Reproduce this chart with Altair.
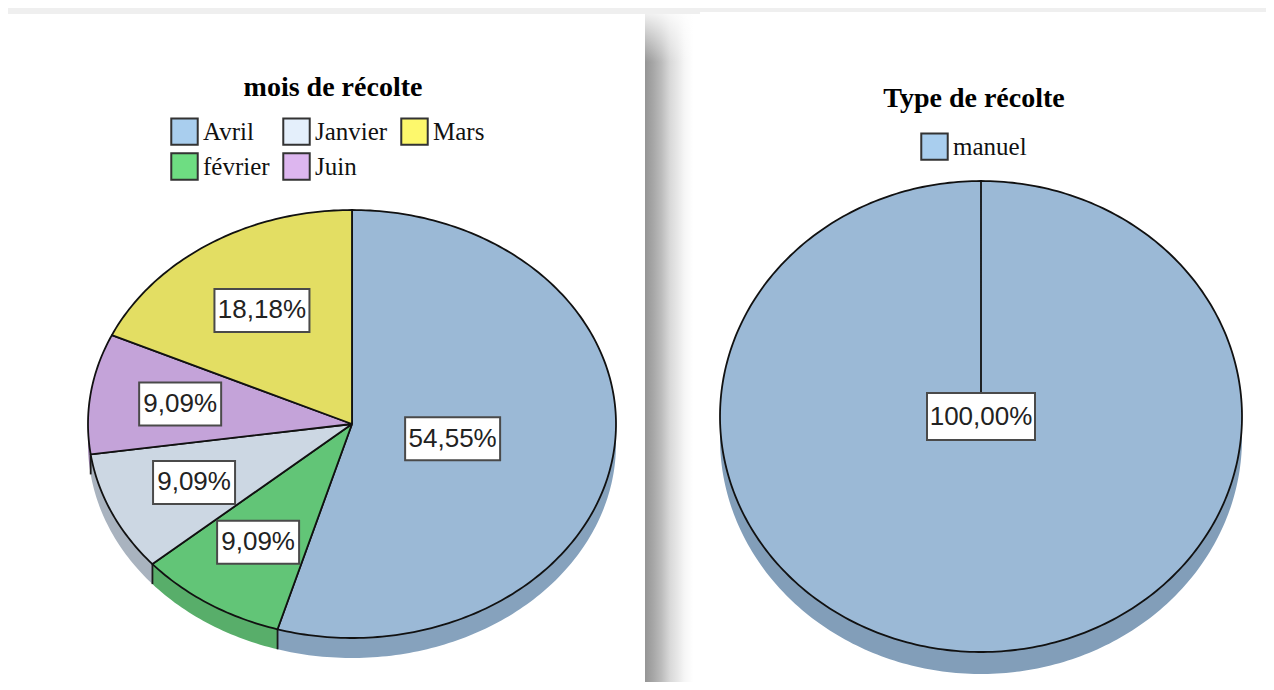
import math
import altair as alt
import pandas as pd

# ---- values ----
months = ["Avril", "février", "Janvier", "Juin", "Mars"]
month_shares = [54.55, 9.09, 9.09, 9.09, 18.18]
month_labels = ["54,55%", "9,09%", "9,09%", "9,09%", "18,18%"]

types = ["manuel"]
type_shares = [100.0]
type_labels = ["100,00%"]

# ---- styles ----
top_months = ["#9BB9D6", "#62C577", "#CCD7E3", "#C4A3D9", "#E3DE63"]
side_months = ["#86A2BD", "#58AE6A", "#A9B3BF", "#A087B2", "#BDB952"]
key_months = ["#A9CEEE", "#6EDD82", "#E4EFFB", "#DDB6EF", "#FDF86C"]
top_types = ["#9BB9D6"]
side_types = ["#829EB9"]
key_types = ["#A9CEEE"]

SERIF = "Liberation Serif"
LABEL_FONT = "Liberation Sans"
H = 674


def arc(cx, cy, rx, ry, a0, a1):
    n = max(2, int(abs(a1 - a0)) + 1)
    out = []
    for k in range(n + 1):
        a = math.radians(a0 + (a1 - a0) * k / n)
        out.append((cx + rx * math.sin(a), cy - ry * math.cos(a)))
    return out


def panel(names, shares, labels, top, side, key_colors, title,
          cx, cy, rx, ry, depth, x0, x1, title_xy, legend_xy, box_h, nudge, background):
    xs = alt.Scale(domain=[x0, x1], nice=False, zero=False)
    ys = alt.Scale(domain=[H + 8, 8], nice=False, zero=False)
    X = lambda f: alt.X(f, type="quantitative", scale=xs, axis=None)
    Y = lambda f: alt.Y(f, type="quantitative", scale=ys, axis=None)

    side_rows, top_rows, label_rows, edge_rows = [], [], [], []
    a = 0.0
    total = sum(shares)
    for i, name in enumerate(names):
        sweep = 360.0 * shares[i] / total
        a1 = a + sweep
        pts = arc(cx, cy, rx, ry, a, a1)
        ring = pts + [(px, py + depth) for px, py in reversed(pts)] + [pts[0]]
        for j, (px, py) in enumerate(ring):
            side_rows.append(dict(px=px, py=py, ord=j, name=name, c=side[i]))
        poly = [(cx, cy)] + pts + [(cx, cy)]
        for j, (px, py) in enumerate(poly):
            top_rows.append(dict(px=px, py=py, ord=j, name=name, c=top[i]))
        half = math.radians(sweep / 2)
        rf = (2 / 3) * math.sin(half) / half
        mid = math.radians(a + sweep / 2)
        lx = cx + rf * rx * math.sin(mid)
        ly = cy - rf * ry * math.cos(mid) + nudge[i]
        bw = 17 + 13 * len(labels[i])
        label_rows.append(dict(name=name, label=labels[i], lx=lx, ly=ly,
                               bx0=lx - bw / 2, bx1=lx + bw / 2,
                               by0=ly - box_h / 2, by1=ly + box_h / 2))
        # a boundary on the front of the pie shows as a vertical edge
        if 90 < a1 < 270:
            ex, ey = arc(cx, cy, rx, ry, a1, a1 + 1)[0]
            edge_rows.append(dict(ex=ex, ey=ey, ey2=ey + depth))
        a = a1

    side_df, top_df = pd.DataFrame(side_rows), pd.DataFrame(top_rows)
    lab_df = pd.DataFrame(label_rows)

    layers = background(X, Y)

    layers.append(alt.Chart(side_df).mark_line(strokeWidth=0).encode(
        x=X("px"), y=Y("py"), order=alt.Order("ord:Q"),
        detail="name:N", fill=alt.Fill("c:N", scale=None)))
    if edge_rows:
        layers.append(alt.Chart(pd.DataFrame(edge_rows)).mark_rule(
            color="#1a1a1a", strokeWidth=1.8).encode(
            x=X("ex"), y=Y("ey"), y2="ey2:Q"))
    layers.append(alt.Chart(top_df).mark_line(
        stroke="#111111", strokeWidth=1.8, strokeJoin="round").encode(
        x=X("px"), y=Y("py"), order=alt.Order("ord:Q"),
        detail="name:N", fill=alt.Fill("c:N", scale=None)))
    layers.append(alt.Chart(lab_df).mark_rect(
        fill="white", stroke="#4a4a4a", strokeWidth=2).encode(
        x=X("bx0"), x2="bx1:Q", y=Y("by0"), y2="by1:Q"))
    layers.append(alt.Chart(lab_df).mark_text(
        font=LABEL_FONT, fontSize=26, color="#222222",
        align="center", baseline="middle").encode(
        x=X("lx"), y=Y("ly"), text="label:N"))
    layers.append(alt.Chart(pd.DataFrame([dict(t=title, tx=title_xy[0], ty=title_xy[1])])).mark_text(
        font=SERIF, fontSize=28, fontWeight="bold", color="#000000",
        align="center", baseline="middle").encode(
        x=X("tx"), y=Y("ty"), text="t:N"))
    # invisible points that carry the key
    layers.append(alt.Chart(lab_df).mark_square(opacity=0, size=10).encode(
        x=X("lx"), y=Y("ly"),
        color=alt.Color("name:N",
                        scale=alt.Scale(domain=names, range=key_colors),
                        legend=alt.Legend(
                            title=None, orient="none",
                            legendX=legend_xy[0] - x0, legendY=legend_xy[1] - 8,
                            columns=3, columnPadding=9, rowPadding=0,
                            symbolType="square", symbolSize=700,
                            symbolOpacity=1, symbolStrokeColor="#333333",
                            symbolStrokeWidth=2, labelOffset=4,
                            labelFont=SERIF, labelFontSize=25,
                            labelColor="#111111", padding=0))))
    return alt.layer(*layers).properties(width=x1 - x0, height=H)


def left_background(X, Y):
    band = pd.DataFrame([dict(a=645, b=700, c=14, d=H + 8)])
    fade = pd.DataFrame([dict(a=645, b=700, c=14, d=62)])
    strip = pd.DataFrame([dict(a=8, b=700, c=8, d=14)])
    band_fill = alt.LinearGradient(
        gradient="linear", x1=0, x2=1, y1=0, y2=0,
        stops=[alt.GradientStop(color="#959595", offset=0),
               alt.GradientStop(color="#a8a8a8", offset=0.16),
               alt.GradientStop(color="#bcbcbc", offset=0.3),
               alt.GradientStop(color="#d8d8d8", offset=0.45),
               alt.GradientStop(color="#e8e8e8", offset=0.6),
               alt.GradientStop(color="#f6f6f6", offset=0.72),
               alt.GradientStop(color="#ffffff", offset=0.88)])
    fade_fill = alt.LinearGradient(
        gradient="linear", x1=0, x2=0, y1=0, y2=1,
        stops=[alt.GradientStop(color="rgba(255,255,255,0.85)", offset=0),
               alt.GradientStop(color="rgba(255,255,255,0)", offset=1)])
    enc = dict(x=X("a"), x2="b:Q", y=Y("c"), y2="d:Q")
    return [alt.Chart(band).mark_rect(fill=band_fill).encode(**enc),
            alt.Chart(fade).mark_rect(fill=fade_fill).encode(**enc),
            alt.Chart(strip).mark_rect(fill="#efefef").encode(**enc)]


def right_background(X, Y):
    strip = pd.DataFrame([dict(a=700, b=1266, c=8, d=12)])
    return [alt.Chart(strip).mark_rect(fill="#efefef").encode(
        x=X("a"), x2="b:Q", y=Y("c"), y2="d:Q")]


left = panel(months, month_shares, month_labels, top_months, side_months,
             key_months, "mois de récolte",
             352, 424, 264, 214, 20, 8, 700, (333, 88), (170, 117),
             43, [3, 0, 0, 0, 0], left_background)
right = panel(types, type_shares, type_labels, top_types, side_types,
              key_types, "Type de récolte",
              981, 416.5, 261, 235.5, 22, 700, 1266, (974, 99), (920, 132),
              47, [0], right_background)

chart = alt.hconcat(left, right, spacing=0).properties(
    padding=0, background="white"
).configure_view(stroke=None).resolve_scale(color="independent")

chart.save("out.html", embed_options={"renderer": "svg", "actions": False})
